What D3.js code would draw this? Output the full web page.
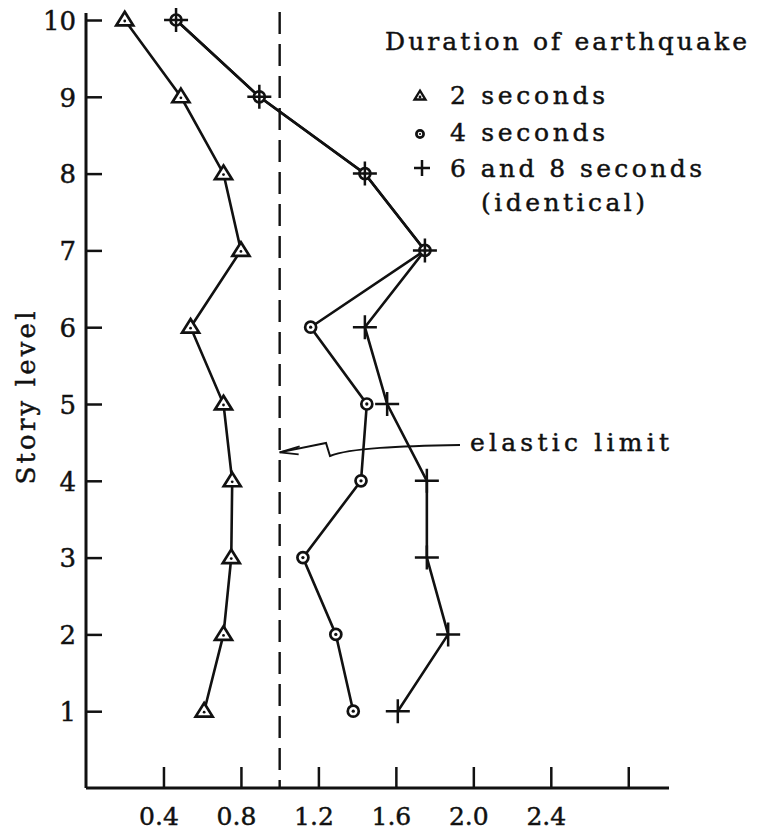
<!DOCTYPE html>
<html>
<head>
<meta charset="utf-8">
<script src="https://cdn.jsdelivr.net/npm/d3@7"></script>
<style>
  body { margin: 0; background: #fff; }
  svg text { font-family: "DejaVu Serif", serif; fill: #111; stroke: #111; stroke-width: 0.45; }
</style>
</head>
<body>
<div id="chart"></div>
<script>
// story levels, bottom to top
const levels = [1, 2, 3, 4, 5, 6, 7, 8, 9, 10];
// ductility-like ratio per story
const twoSec = [0.61, 0.71, 0.75, 0.755, 0.71, 0.54, 0.80, 0.71, 0.49, 0.20];
const fourSec = [1.38, 1.29, 1.12, 1.42, 1.45, 1.16, 1.75, 1.44, 0.895, 0.465];
const sixEightSec = [1.61, 1.87, 1.76, 1.76, 1.555, 1.44, 1.75, 1.44, 0.895, 0.465];
const xTicks = [0.4, 0.8, 1.2, 1.6, 2.0, 2.4, 2.8];
const xTickLabels = ['0.4', '0.8', '1.2', '1.6', '2.0', '2.4', ''];
const elasticLimit = 1.0;
const legendTitle = 'Duration of earthquake';
const legendItems = ['2 seconds', '4 seconds', '6 and 8 seconds'];

const width = 758, height = 830;

const svg = d3.select('#chart').append('svg')
  .attr('width', width).attr('height', height);

const x = d3.scaleLinear().domain([0, 3]).range([86, 667]);
const y = d3.scaleLinear().domain([0, 10]).range([788, 20]);

// axes, ticks pointing inward
const yAxis = d3.axisLeft(y).tickValues(levels).tickSizeInner(-16).tickSizeOuter(0).tickPadding(10);
const xAxis = d3.axisBottom(x).tickValues(xTicks)
  .tickFormat((d, i) => xTickLabels[i]).tickSizeInner(-21).tickSizeOuter(0).tickPadding(19);

const gy = svg.append('g').attr('transform', 'translate(' + x(0) + ',0)').call(yAxis);
gy.select('.domain').remove();
gy.selectAll('line').attr('stroke', '#111').attr('stroke-width', 2.5);
gy.selectAll('text').attr('font-size', 26).attr('dy', '0.36em');
svg.append('line')
  .attr('x1', x(0)).attr('x2', x(0)).attr('y1', 13).attr('y2', y(0))
  .attr('stroke', '#111').attr('stroke-width', 3);

const gx = svg.append('g').attr('transform', 'translate(0,' + y(0) + ')').call(xAxis);
gx.select('.domain').remove();
gx.selectAll('line').attr('stroke', '#111').attr('stroke-width', 2.5);
gx.selectAll('text').attr('font-size', 25).attr('dx', -5);
svg.append('line')
  .attr('x1', x(0)).attr('x2', 669).attr('y1', y(0)).attr('y2', y(0))
  .attr('stroke', '#111').attr('stroke-width', 3);

svg.append('text')
  .attr('transform', 'translate(35,' + 398 + ') rotate(-90)')
  .attr('text-anchor', 'middle')
  .attr('font-size', 26)
  .attr('textLength', 173).attr('lengthAdjust', 'spacing')
  .text('Story level');

// elastic limit
svg.append('line')
  .attr('x1', x(elasticLimit)).attr('x2', x(elasticLimit))
  .attr('y1', 12).attr('y2', y(0))
  .attr('stroke', '#111').attr('stroke-width', 2.4)
  .attr('stroke-dasharray', '22,10');

const line = d3.line().x(d => x(d[0])).y(d => y(d[1]));

function series(vals) { return vals.map((v, i) => [v, levels[i]]); }

const s2 = series(twoSec), s4 = series(fourSec), s68 = series(sixEightSec);

[s2, s4, s68].forEach(s => {
  svg.append('path').datum(s).attr('d', line)
    .attr('fill', 'none').attr('stroke', '#111').attr('stroke-width', 2.6);
});

function triangle(g, cx, cy, w, sw) {
  const h = w * 0.8;
  g.append('path')
    .attr('d', 'M' + cx + ',' + (cy - h * 0.6) + 'L' + (cx + w / 2) + ',' + (cy + h * 0.4) + 'L' + (cx - w / 2) + ',' + (cy + h * 0.4) + 'Z')
    .attr('fill', '#fff').attr('stroke', '#111').attr('stroke-width', sw);
  g.append('circle').attr('cx', cx).attr('cy', cy + 1).attr('r', 1.4).attr('fill', '#111');
}
function ring(g, cx, cy, r) {
  g.append('circle').attr('cx', cx).attr('cy', cy).attr('r', r)
    .attr('fill', '#fff').attr('stroke', '#111').attr('stroke-width', 2.7);
  g.append('circle').attr('cx', cx).attr('cy', cy).attr('r', r * 0.3).attr('fill', '#111');
}
function plus(g, cx, cy, s) {
  g.append('path')
    .attr('d', 'M' + (cx - s / 2) + ',' + cy + 'H' + (cx + s / 2) + 'M' + cx + ',' + (cy - s / 2) + 'V' + (cy + s / 2))
    .attr('stroke', '#111').attr('stroke-width', 2.5);
}

const marks = svg.append('g');
s2.forEach(d => triangle(marks, x(d[0]), y(d[1]), 17, 2.7));
s4.forEach(d => ring(marks, x(d[0]), y(d[1]), 5.5));
s68.forEach(d => plus(marks, x(d[0]), y(d[1]), 24));

// legend
svg.append('text').attr('x', 385).attr('y', 50).attr('font-size', 25)
  .attr('textLength', 362).attr('lengthAdjust', 'spacing').text(legendTitle);
const legY = [104, 141, 177];
const legLen = [155, 155, 252];
triangle(svg, 420, legY[0] - 8, 11, 2.3);
ring(svg, 420, legY[1] - 7, 3.6);
plus(svg, 422, legY[2] - 9, 16);
legendItems.forEach((t, i) => {
  svg.append('text').attr('x', 450).attr('y', legY[i]).attr('font-size', 25)
    .attr('textLength', legLen[i]).attr('lengthAdjust', 'spacing').text(t);
});
svg.append('text').attr('x', 481).attr('y', 211).attr('font-size', 25)
  .attr('textLength', 164).attr('lengthAdjust', 'spacing').text('(identical)');

// elastic limit annotation
svg.append('text').attr('x', 470).attr('y', 451).attr('font-size', 25)
  .attr('textLength', 199).attr('lengthAdjust', 'spacing').text('elastic limit');
const tip = [x(elasticLimit), y(4.37)];
svg.append('path')
  .attr('d', 'M460,445 C400,446 350,448 330,456 L326,443 L' + tip[0] + ',' + tip[1])
  .attr('fill', 'none').attr('stroke', '#111').attr('stroke-width', 2);
svg.append('path')
  .attr('d', 'M' + (tip[0] + 20) + ',' + (tip[1] - 6) + 'L' + tip[0] + ',' + tip[1] + 'L' + (tip[0] + 19) + ',' + (tip[1] + 2))
  .attr('fill', 'none').attr('stroke', '#111').attr('stroke-width', 1.8);
</script>
</body>
</html>
